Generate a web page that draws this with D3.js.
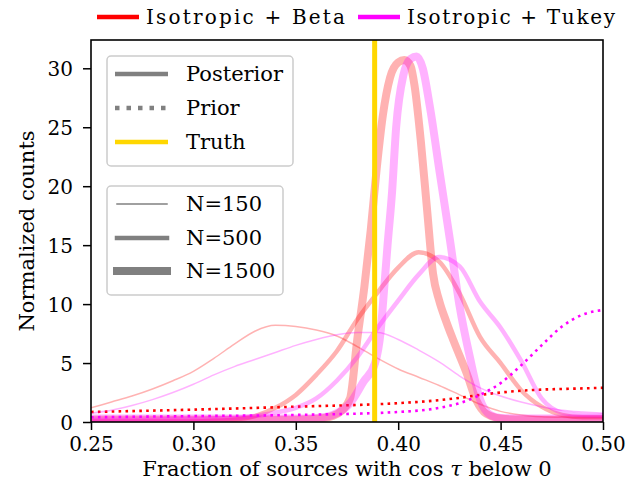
<!DOCTYPE html>
<html>
<head>
<meta charset="utf-8">
<script src="https://cdn.jsdelivr.net/npm/d3@7"></script>
<style>
  body { margin: 0; background: #fff; }
  text { font-family: "DejaVu Serif", serif; }
</style>
</head>
<body>
<script>
// grid used by the N=150 and N=500 posteriors
const xGrid = [0.25, 0.26, 0.27, 0.28, 0.29, 0.30, 0.31, 0.32, 0.33, 0.34, 0.35, 0.36, 0.37,
  0.38, 0.39, 0.40, 0.41, 0.42, 0.43, 0.44, 0.45, 0.46, 0.47, 0.48, 0.49, 0.50];

const betaN150 = [1.2, 1.7, 2.2, 2.8, 3.5, 4.3, 5.4, 6.6, 7.7, 8.2, 8.1, 7.8, 7.3,
  6.4, 5.4, 4.5, 3.8, 3.1, 2.3, 1.5, 0.9, 0.6, 0.45, 0.4, 0.35, 0.35];
const tukeyN150 = [0.75, 1.0, 1.4, 1.9, 2.5, 3.2, 4.0, 4.7, 5.3, 5.9, 6.5, 7.0, 7.4,
  7.6, 7.6, 7.0, 6.1, 5.1, 3.9, 2.9, 2.2, 1.7, 1.3, 1.0, 0.85, 0.75];

const betaN500 = [0.05, 0.05, 0.05, 0.05, 0.05, 0.05, 0.1, 0.2, 0.5, 1.2, 2.3, 4.0, 6.0,
  8.7, 11.0, 13.1, 14.4, 13.6, 10.9, 7.2, 5.0, 2.7, 1.3, 0.6, 0.4, 0.4];
const tukeyN500 = [0.2, 0.2, 0.2, 0.2, 0.25, 0.25, 0.3, 0.35, 0.5, 0.8, 1.2, 2.0, 3.5,
  5.5, 8.0, 10.3, 12.5, 14.0, 13.2, 10.2, 8.0, 5.2, 2.0, 0.8, 0.6, 0.55];

// N=1500 posteriors are narrow, so they get their own x points
const betaN1500X = [0.25, 0.30, 0.35, 0.362, 0.368, 0.372, 0.3765, 0.380, 0.3835, 0.3866, 0.3895,
  0.3925, 0.396, 0.400, 0.403, 0.406, 0.408, 0.411, 0.414, 0.417, 0.420, 0.4235, 0.427,
  0.4335, 0.438, 0.443, 0.45, 0.46, 0.50];
const betaN1500Y = [0.2, 0.2, 0.2, 0.3, 0.5, 0.9, 2.0, 7.0, 11.5, 16.3, 21.5,
  26.0, 29.2, 30.5, 30.7, 30.2, 28.5, 23.9, 18.2, 12.6, 10.3, 8.5, 6.9,
  4.1, 1.9, 0.7, 0.3, 0.2, 0.2];

const tukeyN1500X = [0.25, 0.30, 0.35, 0.36, 0.368, 0.3765, 0.383, 0.3887, 0.3915, 0.393, 0.3948,
  0.397, 0.399, 0.4025, 0.406, 0.409, 0.412, 0.4155, 0.4204, 0.4253, 0.430, 0.435,
  0.440, 0.445, 0.45, 0.46, 0.50];
const tukeyN1500Y = [0.3, 0.3, 0.3, 0.35, 0.6, 1.6, 3.4, 5.0, 7.8, 11.0, 15.0,
  19.5, 25.0, 29.4, 30.8, 31.0, 30.0, 26.7, 21.0, 15.4, 9.8, 5.5,
  1.9, 0.6, 0.35, 0.3, 0.3];

// priors
const priorX = [0.25, 0.30, 0.35, 0.40, 0.42, 0.43, 0.44, 0.45, 0.46, 0.47, 0.48, 0.49, 0.50];
const betaPrior = [0.85, 1.05, 1.3, 1.6, 1.85, 2.05, 2.3, 2.5, 2.65, 2.75, 2.8, 2.85, 2.9];
const tukeyPrior = [0.4, 0.5, 0.6, 0.85, 1.2, 1.6, 2.3, 3.3, 4.8, 6.5, 8.1, 9.1, 9.5];

const truthValue = 0.3885;

const xTicks = [0.25, 0.30, 0.35, 0.40, 0.45, 0.50];
const yTicks = [0, 5, 10, 15, 20, 25, 30];
const modelNames = ["Isotropic + Beta", "Isotropic + Tukey"];
const sizeNames = ["N=150", "N=500", "N=1500"];

const W = 639, H = 491;
const pl = 91, pr = 603, pt = 40, pb = 422;
const serif = "DejaVu Serif";

const svg = d3.select("body").append("svg")
  .attr("width", W).attr("height", H);

const x = d3.scaleLinear().domain([0.25, 0.5]).range([pl, pr]);
const y = d3.scaleLinear().domain([0, 32.4]).range([pb, pt]);

svg.append("clipPath").attr("id", "clip")
  .append("rect")
  .attr("x", pl).attr("y", pt)
  .attr("width", pr - pl).attr("height", pb - pt);

const line = d3.line()
  .x(d => x(d[0]))
  .y(d => y(d[1]))
  .curve(d3.curveMonotoneX);

const plot = svg.append("g").attr("clip-path", "url(#clip)");

const red = "#ff0000", magenta = "#ff00ff";
const widths = [1.5, 4.5, 8];

// one entry per curve, drawn in order
const curves = [
  { xs: xGrid, ys: betaN150, color: red, w: widths[0] },
  { xs: xGrid, ys: betaN500, color: red, w: widths[1] },
  { xs: betaN1500X, ys: betaN1500Y, color: red, w: widths[2] },
  { xs: priorX, ys: betaPrior, color: red, w: 2.6, prior: true },
  { xs: xGrid, ys: tukeyN150, color: magenta, w: widths[0] },
  { xs: xGrid, ys: tukeyN500, color: magenta, w: widths[1] },
  { xs: tukeyN1500X, ys: tukeyN1500Y, color: magenta, w: widths[2] },
  { xs: priorX, ys: tukeyPrior, color: magenta, w: 2.6, prior: true }
];

curves.forEach(c => {
  plot.append("path")
    .datum(c.xs.map((v, i) => [v, c.ys[i]]))
    .attr("d", line)
    .attr("fill", "none")
    .attr("stroke", c.color)
    .attr("stroke-opacity", c.prior ? 1 : 0.3)
    .attr("stroke-width", c.w)
    .attr("stroke-linejoin", "round")
    .attr("stroke-dasharray", c.prior ? "2.6,4.3" : null);
});

// truth line
plot.append("line")
  .attr("x1", x(truthValue)).attr("x2", x(truthValue))
  .attr("y1", pt).attr("y2", pb)
  .attr("stroke", "#ffd700")
  .attr("stroke-width", 5);

// axes
const xAxis = svg.append("g")
  .attr("transform", `translate(0,${pb})`)
  .call(d3.axisBottom(x).tickValues(xTicks).tickFormat(d3.format(".2f"))
    .tickSize(8).tickSizeOuter(0).tickPadding(7));
const yAxis = svg.append("g")
  .attr("transform", `translate(${pl},0)`)
  .call(d3.axisLeft(y).tickValues(yTicks).tickSize(8).tickSizeOuter(0).tickPadding(10));

[xAxis, yAxis].forEach(a => {
  a.attr("font-family", serif);
  a.selectAll("text")
    .attr("font-family", serif)
    .attr("font-size", 20)
    .attr("fill", "#000");
  a.selectAll("line").attr("stroke", "#000").attr("stroke-width", 1.5);
  a.select(".domain").remove();
});
yAxis.selectAll("text").attr("dy", "0.36em");

svg.append("rect")
  .attr("x", pl).attr("y", pt)
  .attr("width", pr - pl).attr("height", pb - pt)
  .attr("fill", "none")
  .attr("stroke", "#000")
  .attr("stroke-width", 1.6);

// axis labels
const xLabel = svg.append("text")
  .attr("x", (pl + pr) / 2).attr("y", 476)
  .attr("text-anchor", "middle")
  .attr("font-family", serif)
  .attr("font-size", 21);
xLabel.append("tspan").text("Fraction of sources with cos ");
xLabel.append("tspan").attr("font-style", "italic").text("τ");
xLabel.append("tspan").text(" below 0");

svg.append("text")
  .attr("transform", `translate(34,${(pt + pb) / 2}) rotate(-90)`)
  .attr("text-anchor", "middle")
  .attr("font-family", serif)
  .attr("font-size", 21)
  .text("Normalized counts");

// top legend (models)
const topLeg = svg.append("g");
[[97, red], [358, magenta]].forEach((d, i) => {
  topLeg.append("line")
    .attr("x1", d[0]).attr("x2", d[0] + 42)
    .attr("y1", 17).attr("y2", 17)
    .attr("stroke", d[1]).attr("stroke-width", 4.5);
  topLeg.append("text")
    .attr("x", d[0] + 49).attr("y", 24)
    .attr("font-family", "DejaVu Sans Mono, monospace")
    .attr("font-size", 20)
    .attr("textLength", i === 0 ? 199 : 208)
    .attr("lengthAdjust", "spacing")
    .text(modelNames[i]);
});

// legend boxes
function legendBox(x0, y0, w, h) {
  svg.append("rect")
    .attr("x", x0).attr("y", y0)
    .attr("width", w).attr("height", h)
    .attr("rx", 4)
    .attr("fill", "#fff").attr("fill-opacity", 0.8)
    .attr("stroke", "#cccccc").attr("stroke-width", 1.5);
}

legendBox(107, 56, 186, 110);
legendBox(107, 186, 176, 109);

const gray = "#808080";
const styleItems = [
  { label: "Posterior", color: gray, w: 4.5, dash: null, yy: 74 },
  { label: "Prior", color: gray, w: 4.5, dash: "4.5,7", yy: 108 },
  { label: "Truth", color: "#ffd700", w: 4.5, dash: null, yy: 142 }
];
styleItems.forEach(d => {
  svg.append("line")
    .attr("x1", 115).attr("x2", 168)
    .attr("y1", d.yy).attr("y2", d.yy)
    .attr("stroke", d.color).attr("stroke-width", d.w)
    .attr("stroke-dasharray", d.dash);
  svg.append("text")
    .attr("x", 186).attr("y", d.yy + 7)
    .attr("font-family", serif)
    .attr("font-size", 21)
    .text(d.label);
});

sizeNames.forEach((name, i) => {
  const yy = [204, 238, 271][i];
  svg.append("line")
    .attr("x1", 117).attr("x2", 167)
    .attr("y1", yy).attr("y2", yy)
    .attr("stroke", gray).attr("stroke-width", widths[i])
    .attr("stroke-linecap", "square");
  svg.append("text")
    .attr("x", 186).attr("y", yy + 7)
    .attr("font-family", serif)
    .attr("font-size", 21)
    .text(name);
});
</script>
</body>
</html>
